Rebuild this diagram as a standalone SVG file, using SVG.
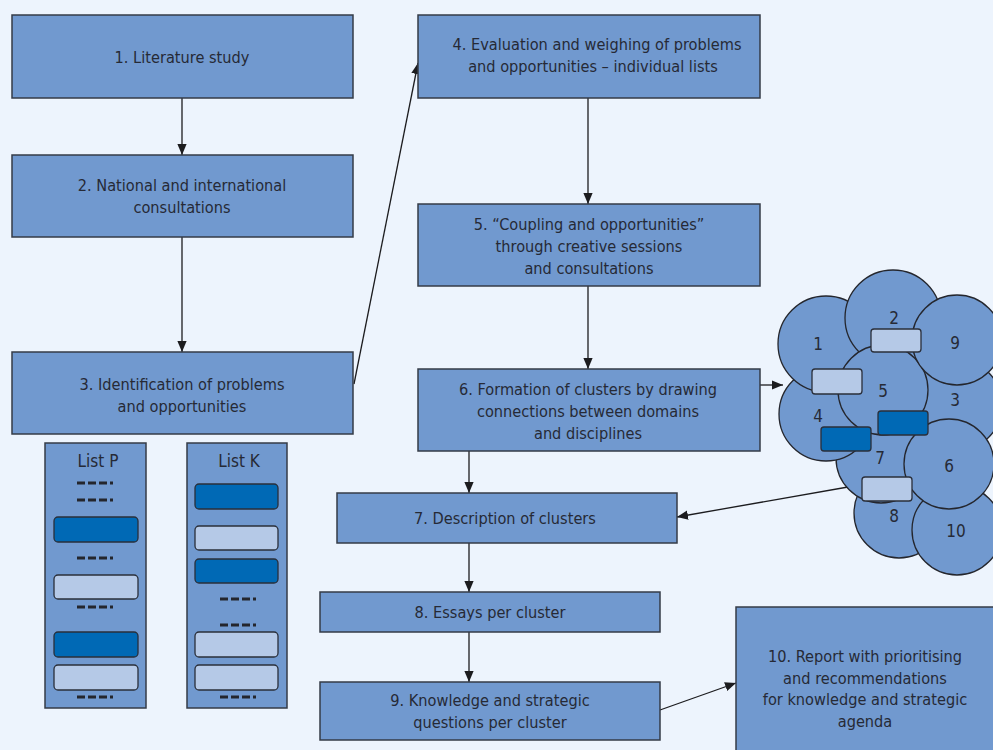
<svg xmlns="http://www.w3.org/2000/svg" width="993" height="750" viewBox="0 0 993 750">
  <style>
    .box { fill: #7199cf; stroke: #353b47; stroke-width: 1.5; }
    .lbl { font-family: "DejaVu Sans Condensed", "Liberation Sans", sans-serif; font-size: 16.2px; fill: #262a36; text-anchor: middle; }
    .num { font-size: 17px; }
    .link { fill: none; stroke: #1c1c1f; stroke-width: 1.3; }
    .dark { fill: #0069b5; stroke: #2a2f3a; stroke-width: 1.3; }
    .light { fill: #b5c9e7; stroke: #2a2f3a; stroke-width: 1.3; }
    .dots { stroke: #24262d; stroke-width: 3; stroke-dasharray: 8 3 8 3 8 3 3 100; }
    .blob { fill: #7199cf; stroke: #24262d; stroke-width: 1.3; }
  </style>
  <defs>
    <marker id="arrow" viewBox="0 0 10 10" refX="10" refY="5" markerWidth="11" markerHeight="11" markerUnits="userSpaceOnUse" orient="auto">
      <path d="M0,0.8 L10,5 L0,9.2 Z" fill="#1c1c1f"/>
    </marker>
  </defs>

  <rect x="0" y="0" width="993" height="750" fill="#edf4fd"/>

  <!-- connectors -->
  <g id="connectors">
    <line class="link" x1="182" y1="98" x2="182" y2="155" marker-end="url(#arrow)"/>
    <line class="link" x1="182" y1="237" x2="182" y2="352" marker-end="url(#arrow)"/>
    <line class="link" x1="354" y1="384" x2="418" y2="63" marker-end="url(#arrow)"/>
    <line class="link" x1="588" y1="98" x2="588" y2="204" marker-end="url(#arrow)"/>
    <line class="link" x1="588" y1="286" x2="588" y2="369" marker-end="url(#arrow)"/>
    <line class="link" x1="760" y1="385" x2="783" y2="385" marker-end="url(#arrow)"/>
    <line class="link" x1="469" y1="451" x2="469" y2="493" marker-end="url(#arrow)"/>
    <line class="link" x1="848" y1="487" x2="677" y2="517" marker-end="url(#arrow)"/>
    <line class="link" x1="469" y1="543" x2="469" y2="592" marker-end="url(#arrow)"/>
    <line class="link" x1="469" y1="632" x2="469" y2="682" marker-end="url(#arrow)"/>
    <line class="link" x1="660" y1="710" x2="736" y2="683" marker-end="url(#arrow)"/>
  </g>

  <!-- process steps -->
  <g id="step1">
    <rect class="box" x="12" y="15" width="341" height="83"/>
    <text class="lbl" x="182" y="63">1. Literature study</text>
  </g>
  <g id="step2">
    <rect class="box" x="12" y="155" width="341" height="82"/>
    <text class="lbl" x="182" y="191">2. National and international</text>
    <text class="lbl" x="182" y="213">consultations</text>
  </g>
  <g id="step3">
    <rect class="box" x="12" y="352" width="341" height="82"/>
    <text class="lbl" x="182" y="390">3. Identification of problems</text>
    <text class="lbl" x="182" y="412">and opportunities</text>
  </g>
  <g id="step4">
    <rect class="box" x="418" y="15" width="342" height="83"/>
    <text class="lbl" x="597" y="50">4. Evaluation and weighing of problems</text>
    <text class="lbl" x="593" y="72">and opportunities – individual lists</text>
  </g>
  <g id="step5">
    <rect class="box" x="418" y="204" width="342" height="82"/>
    <text class="lbl" x="589" y="230">5. “Coupling and opportunities”</text>
    <text class="lbl" x="589" y="252">through creative sessions</text>
    <text class="lbl" x="589" y="274">and consultations</text>
  </g>
  <g id="step6">
    <rect class="box" x="418" y="369" width="342" height="82"/>
    <text class="lbl" x="588" y="395">6. Formation of clusters by drawing</text>
    <text class="lbl" x="588" y="417">connections between domains</text>
    <text class="lbl" x="588" y="439">and disciplines</text>
  </g>
  <g id="step7">
    <rect class="box" x="337" y="493" width="340" height="50"/>
    <text class="lbl" x="505" y="524">7. Description of clusters</text>
  </g>
  <g id="step8">
    <rect class="box" x="320" y="592" width="340" height="40"/>
    <text class="lbl" x="490" y="618">8. Essays per cluster</text>
  </g>
  <g id="step9">
    <rect class="box" x="320" y="682" width="340" height="58"/>
    <text class="lbl" x="490" y="706">9. Knowledge and strategic</text>
    <text class="lbl" x="490" y="728">questions per cluster</text>
  </g>
  <g id="step10">
    <rect class="box" x="736" y="607" width="262" height="150"/>
    <text class="lbl" x="865" y="662">10. Report with prioritising</text>
    <text class="lbl" x="865" y="684">and recommendations</text>
    <text class="lbl" x="865" y="705">for knowledge and strategic</text>
    <text class="lbl" x="865" y="727">agenda</text>
  </g>

  <!-- list P -->
  <g id="listP">
    <rect class="box" x="45" y="443" width="101" height="265"/>
    <text class="lbl num" x="98" y="467">List P</text>
    <line class="dots" x1="77" y1="483" x2="115" y2="483"/>
    <line class="dots" x1="77" y1="500" x2="115" y2="500"/>
    <rect class="dark" x="54" y="517" width="84" height="25" rx="4"/>
    <line class="dots" x1="77" y1="558" x2="115" y2="558"/>
    <rect class="light" x="54" y="575" width="84" height="24" rx="4"/>
    <line class="dots" x1="77" y1="607" x2="115" y2="607"/>
    <rect class="dark" x="54" y="632" width="84" height="25" rx="4"/>
    <rect class="light" x="54" y="665" width="84" height="25" rx="4"/>
    <line class="dots" x1="77" y1="697" x2="115" y2="697"/>
  </g>

  <!-- list K -->
  <g id="listK">
    <rect class="box" x="187" y="443" width="100" height="265"/>
    <text class="lbl num" x="239" y="467">List K</text>
    <rect class="dark" x="195" y="484" width="83" height="25" rx="4"/>
    <rect class="light" x="195" y="526" width="83" height="24" rx="4"/>
    <rect class="dark" x="195" y="559" width="83" height="24" rx="4"/>
    <line class="dots" x1="220" y1="599" x2="258" y2="599"/>
    <line class="dots" x1="220" y1="625" x2="258" y2="625"/>
    <rect class="light" x="195" y="632" width="83" height="25" rx="4"/>
    <rect class="light" x="195" y="665" width="83" height="25" rx="4"/>
    <line class="dots" x1="220" y1="697" x2="258" y2="697"/>
  </g>

  <!-- cluster of domains -->
  <g id="clusters">
    <circle class="blob" cx="956" cy="405" r="46"/>
    <circle class="blob" cx="899" cy="513" r="45"/>
    <circle class="blob" cx="957" cy="530" r="45"/>
    <circle class="blob" cx="881" cy="458" r="45"/>
    <circle class="blob" cx="826" cy="414" r="47"/>
    <circle class="blob" cx="826" cy="344" r="48"/>
    <circle class="blob" cx="893" cy="318" r="48"/>
    <circle class="blob" cx="883" cy="390" r="45"/>
    <circle class="blob" cx="957" cy="340" r="45"/>
    <circle class="blob" cx="949" cy="464" r="45"/>
    <rect class="light" x="871" y="329" width="50" height="23" rx="3"/>
    <rect class="light" x="812" y="369" width="50" height="25" rx="3"/>
    <rect class="dark" x="878" y="411" width="50" height="24" rx="3"/>
    <rect class="dark" x="821" y="427" width="50" height="24" rx="3"/>
    <rect class="light" x="862" y="477" width="50" height="24" rx="3"/>
    <text class="lbl num" x="818" y="350">1</text>
    <text class="lbl num" x="894" y="324">2</text>
    <text class="lbl num" x="955" y="406">3</text>
    <text class="lbl num" x="818" y="422">4</text>
    <text class="lbl num" x="883" y="397">5</text>
    <text class="lbl num" x="949" y="472">6</text>
    <text class="lbl num" x="880" y="464">7</text>
    <text class="lbl num" x="894" y="522">8</text>
    <text class="lbl num" x="955" y="349">9</text>
    <text class="lbl num" x="956" y="537">10</text>
  </g>
</svg>
